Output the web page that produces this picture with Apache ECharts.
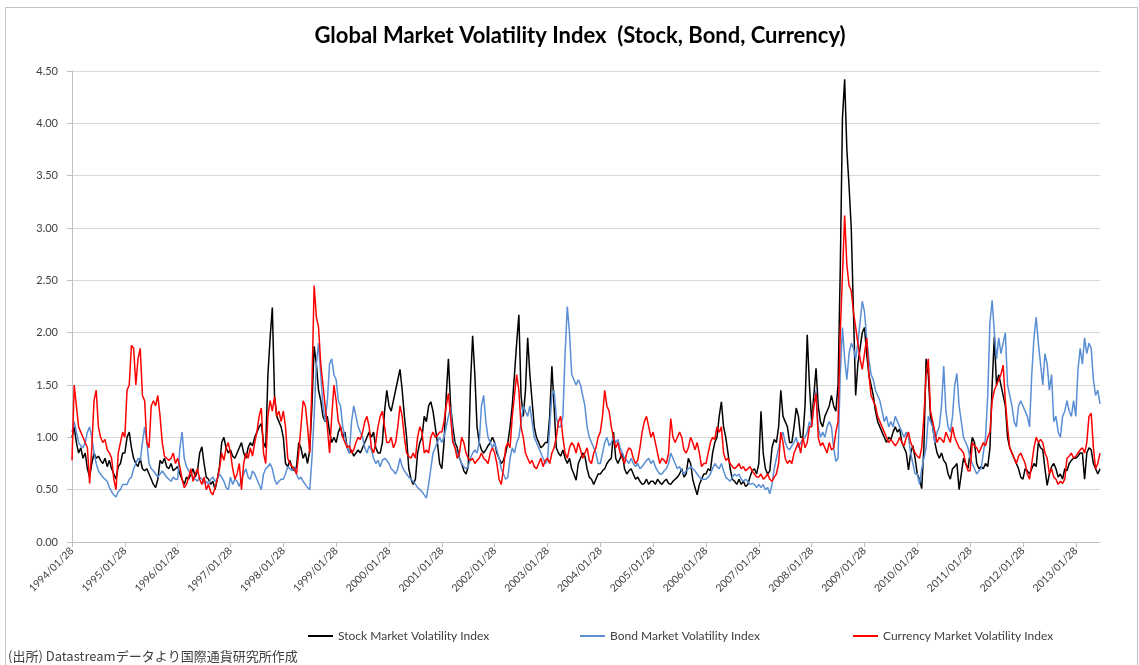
<!DOCTYPE html>
<html><head><meta charset="utf-8">
<script src="https://cdn.jsdelivr.net/npm/echarts@6.0.0/dist/echarts.min.js"></script>
<style>
html,body{margin:0;padding:0;background:#fff;}
#frame{position:absolute;left:5px;top:7px;width:1133px;height:680px;border:1px solid #c4c4c4;box-sizing:border-box;}
#chart{position:absolute;left:0;top:0;width:1139px;height:665px;}
</style></head><body>
<div id="frame"></div>
<div id="chart"></div>
<script>
// Semi-monthly readings (13th and 28th of each month), 1994/01/28 .. 2013/07/13
const stock = [
1.0,1.1,0.95,0.85,0.9,0.8,0.85,0.7,0.62,0.75,0.85,0.8,0.82,0.78,0.75,0.8,0.72,0.78,0.7,0.65,0.6,0.72,0.75,0.85,
0.85,1.0,1.05,0.9,0.8,0.75,0.72,0.8,0.7,0.68,0.7,0.65,0.6,0.55,0.52,0.6,0.78,0.75,0.8,0.72,0.7,0.75,0.68,0.7,
0.72,0.65,0.6,0.55,0.62,0.6,0.65,0.7,0.62,0.68,0.85,0.91,0.75,0.62,0.6,0.55,0.58,0.5,0.6,0.72,0.95,1.0,0.9,0.85,
0.88,0.82,0.8,0.85,0.9,0.95,0.85,0.8,0.9,0.95,0.92,1.0,1.05,1.1,1.13,0.95,0.9,1.6,1.95,2.24,1.4,1.2,1.15,1.1,
1.0,0.75,0.72,0.78,0.7,0.68,0.72,0.95,0.9,0.8,0.85,0.75,0.88,1.3,1.87,1.7,1.45,1.35,1.2,1.15,1.2,1.05,0.95,1.0,
0.95,1.05,1.1,1.0,1.05,0.9,0.85,0.88,0.82,0.85,0.88,0.85,0.9,0.95,1.0,1.05,1.0,1.05,0.9,0.85,0.85,0.95,1.25,1.45,
1.3,1.25,1.35,1.45,1.55,1.65,1.45,1.2,1.0,0.7,0.6,0.55,0.6,0.85,0.95,1.0,1.2,1.15,1.3,1.34,1.25,1.1,0.95,0.75,
0.7,0.95,1.4,1.75,1.3,1.1,0.95,0.9,0.8,0.75,0.68,0.65,0.72,1.5,1.97,1.6,1.1,0.95,0.88,0.85,0.88,0.92,0.95,1.0,
0.95,0.85,0.8,0.75,0.78,0.85,0.95,1.1,1.3,1.6,1.9,2.17,1.4,1.2,1.45,1.95,1.6,1.35,1.1,1.0,0.95,0.9,0.92,0.95,
0.95,1.2,1.68,1.3,0.9,0.85,0.82,0.88,0.8,0.75,0.8,0.7,0.65,0.59,0.75,0.8,0.85,0.82,0.7,0.62,0.6,0.55,0.6,0.65,
0.65,0.68,0.7,0.75,0.78,0.8,1.05,0.8,0.75,0.8,0.85,0.7,0.65,0.68,0.7,0.65,0.6,0.62,0.58,0.55,0.56,0.6,0.55,0.58,
0.58,0.55,0.6,0.57,0.55,0.58,0.6,0.56,0.55,0.58,0.6,0.62,0.65,0.7,0.62,0.65,0.8,0.75,0.6,0.52,0.45,0.55,0.6,0.65,
0.65,0.7,0.68,0.85,0.95,1.0,1.2,1.34,1.1,1.0,0.85,0.7,0.6,0.58,0.55,0.6,0.55,0.58,0.53,0.55,0.62,0.68,0.7,0.65,
0.75,1.25,0.85,0.7,0.65,0.68,0.9,0.98,0.95,1.1,1.45,1.2,1.15,1.1,0.95,0.95,1.1,1.28,1.2,1.0,1.0,1.3,1.98,1.5,
1.15,1.4,1.66,1.3,1.15,1.1,1.2,1.25,1.3,1.4,1.3,1.25,1.5,2.6,4.05,4.42,3.75,3.4,3.0,2.2,1.4,1.7,1.85,2.0,
2.05,1.8,1.6,1.5,1.4,1.25,1.15,1.1,1.05,1.0,0.95,1.0,0.98,1.05,1.1,1.05,1.08,0.95,0.9,0.85,0.69,0.85,0.92,0.8,
0.65,0.6,0.51,0.9,1.75,1.6,1.2,1.1,0.95,0.85,0.8,0.85,0.78,0.75,0.65,0.6,0.7,0.72,0.75,0.5,0.65,0.8,0.75,0.7,
0.85,1.0,0.95,0.75,0.7,0.72,0.7,0.75,0.72,0.9,1.5,1.96,1.5,1.6,1.5,1.4,1.3,1.0,0.9,0.85,0.8,0.75,0.7,0.62,
0.6,0.7,0.68,0.65,0.7,0.75,0.72,0.95,0.9,0.88,0.7,0.54,0.65,0.72,0.75,0.7,0.62,0.65,0.6,0.7,0.68,0.75,0.78,0.8,
0.8,0.82,0.85,0.85,0.6,0.85,0.9,0.88,0.75,0.7,0.65,0.7
];
const bond = [
1.05,1.15,1.05,0.95,0.92,0.9,0.95,1.05,1.1,1.0,0.85,0.75,0.68,0.65,0.62,0.6,0.58,0.52,0.48,0.45,0.43,0.48,0.5,0.55,
0.55,0.55,0.6,0.62,0.7,0.75,0.8,0.78,0.95,1.1,0.95,0.75,0.7,0.68,0.65,0.62,0.65,0.68,0.65,0.62,0.6,0.58,0.62,0.6,
0.6,0.9,1.05,0.8,0.72,0.68,0.65,0.62,0.6,0.58,0.62,0.6,0.56,0.58,0.55,0.6,0.62,0.58,0.6,0.65,0.62,0.58,0.52,0.5,
0.62,0.55,0.6,0.58,0.53,0.6,0.65,0.7,0.62,0.6,0.68,0.65,0.6,0.55,0.5,0.65,0.7,0.72,0.75,0.7,0.6,0.55,0.58,0.6,
0.6,0.65,0.72,0.7,0.68,0.72,0.65,0.6,0.62,0.58,0.55,0.52,0.5,0.8,1.2,1.7,1.9,1.6,1.3,1.15,1.35,1.7,1.75,1.6,
1.55,1.35,1.3,1.1,1.0,0.9,0.85,1.15,1.3,1.2,1.1,1.05,1.0,0.9,0.85,0.92,0.88,0.8,0.75,0.78,0.72,0.78,0.8,0.78,
0.75,0.7,0.68,0.65,0.7,0.8,0.72,0.68,0.65,0.62,0.6,0.58,0.55,0.52,0.5,0.48,0.45,0.42,0.55,0.7,0.85,0.9,0.95,1.0,
0.95,1.0,1.1,1.2,1.29,1.0,0.9,0.85,0.8,0.75,0.72,0.7,0.72,0.8,0.85,0.88,0.85,0.95,1.3,1.4,1.15,1.0,0.95,0.9,
0.95,0.88,0.8,0.7,0.65,0.6,0.62,0.8,0.9,0.85,0.95,1.0,1.15,1.3,1.25,1.2,1.3,1.15,1.0,0.95,0.9,0.85,0.8,0.75,
0.78,1.1,1.4,1.45,1.2,1.1,1.1,1.2,1.8,2.25,2.0,1.6,1.55,1.5,1.55,1.5,1.4,1.3,1.1,1.0,0.95,0.9,0.85,0.75,
0.75,0.85,0.95,1.0,0.92,0.95,1.0,0.95,0.98,0.9,0.85,0.8,0.78,0.75,0.8,0.75,0.72,0.75,0.7,0.72,0.75,0.78,0.8,0.75,
0.78,0.72,0.68,0.65,0.65,0.68,0.7,0.75,0.85,0.8,0.75,0.7,0.72,0.68,0.65,0.68,0.7,0.72,0.7,0.68,0.65,0.62,0.6,0.6,
0.6,0.62,0.65,0.7,0.75,0.72,0.7,0.75,0.68,0.62,0.6,0.58,0.62,0.65,0.63,0.65,0.6,0.58,0.6,0.58,0.55,0.56,0.55,0.52,
0.55,0.52,0.55,0.5,0.52,0.46,0.55,0.7,0.8,0.9,1.0,1.05,0.95,0.9,0.88,0.92,0.95,1.0,0.9,0.95,0.98,1.0,1.05,1.15,
1.1,1.3,1.45,1.1,1.0,1.05,1.0,1.1,1.15,1.1,0.9,0.77,0.8,1.6,2.05,1.75,1.55,1.8,1.9,1.85,1.75,1.9,2.1,2.3,
2.2,1.95,1.75,1.6,1.55,1.45,1.4,1.35,1.25,1.15,1.2,1.1,1.15,1.1,1.2,1.15,1.1,1.05,1.0,1.05,1.0,0.85,0.75,0.65,
0.65,0.55,0.7,0.8,0.9,1.2,1.15,1.1,0.95,1.05,1.1,1.3,1.68,1.25,1.1,1.05,1.2,1.5,1.61,1.3,1.15,1.0,0.95,0.9,
0.8,0.75,0.7,0.65,0.68,0.7,0.85,1.0,1.4,2.1,2.31,2.0,1.75,1.95,1.8,1.9,2.0,1.5,1.4,1.3,1.15,1.1,1.3,1.35,
1.3,1.25,1.2,1.1,1.6,1.95,2.15,1.9,1.7,1.5,1.8,1.7,1.45,1.6,1.15,1.2,1.05,1.0,1.2,1.25,1.35,1.25,1.2,1.35,
1.2,1.65,1.85,1.7,1.95,1.8,1.9,1.85,1.55,1.4,1.45,1.32
];
const currency = [
0.78,1.5,1.3,1.1,1.05,1.0,0.95,0.9,0.56,0.9,1.35,1.45,1.1,1.0,0.95,0.98,0.88,0.85,0.8,0.6,0.5,0.85,0.95,1.05,
1.0,1.45,1.5,1.88,1.85,1.5,1.75,1.85,1.4,1.35,0.95,0.9,1.3,1.35,1.3,1.4,1.2,0.95,0.82,0.8,0.78,0.8,0.85,0.75,
0.8,0.72,0.6,0.52,0.55,0.62,0.7,0.58,0.65,0.7,0.6,0.55,0.62,0.5,0.55,0.48,0.45,0.52,0.6,0.7,0.85,0.78,0.9,0.95,
0.85,0.7,0.6,0.65,0.75,0.5,0.75,0.85,0.8,0.9,0.82,0.95,1.05,1.2,1.28,0.85,0.75,1.2,1.35,1.25,1.39,1.2,1.25,1.15,
1.25,1.1,0.8,0.75,0.72,0.7,0.65,0.85,1.1,1.35,1.3,1.1,0.85,1.5,2.45,2.15,2.05,1.7,1.5,1.3,1.1,0.85,1.2,1.5,
1.35,1.15,1.1,1.0,0.95,0.9,0.92,0.85,0.88,0.95,1.0,0.98,1.05,1.15,1.2,1.1,0.9,0.85,0.95,1.1,1.2,1.25,1.1,0.95,
0.95,1.0,0.9,0.95,1.1,1.3,1.2,1.0,0.85,0.82,0.8,0.85,0.8,1.0,1.1,1.05,0.85,0.88,0.85,1.0,1.05,1.0,1.02,1.05,
1.05,1.15,1.3,1.42,1.2,0.95,0.9,0.8,0.85,1.0,0.95,0.85,0.8,0.78,0.8,0.75,0.78,0.8,0.85,0.8,0.78,0.75,0.85,0.9,
0.85,0.75,0.6,0.55,0.7,0.9,0.95,0.9,1.2,1.4,1.6,1.45,1.1,1.0,0.85,0.8,0.75,0.78,0.72,0.7,0.75,0.8,0.72,0.78,
0.8,0.75,0.85,0.9,1.0,1.15,1.2,1.0,0.85,0.8,0.9,0.95,0.92,0.85,0.95,0.88,0.8,0.85,0.9,0.78,0.75,0.85,0.9,1.0,
1.05,1.2,1.45,1.3,1.25,1.1,1.0,0.9,0.95,0.85,0.8,0.75,0.85,0.9,0.88,0.8,0.75,0.78,0.9,1.05,1.15,1.2,1.1,1.0,
1.05,0.95,0.85,0.75,0.8,0.78,0.75,0.85,1.18,1.0,0.95,1.0,1.05,1.0,0.88,0.85,0.9,1.0,0.95,0.88,0.95,0.85,0.72,0.75,
0.75,0.85,0.95,1.0,0.98,1.1,1.05,1.1,0.85,0.78,0.8,0.75,0.72,0.7,0.72,0.75,0.7,0.72,0.68,0.7,0.72,0.68,0.65,0.62,
0.62,0.65,0.6,0.62,0.65,0.6,0.58,0.62,0.65,0.75,1.05,0.95,0.8,0.75,0.78,0.75,0.85,0.9,0.95,0.85,1.0,0.9,0.95,1.1,
1.1,1.3,1.42,1.0,0.92,0.95,0.9,0.85,0.95,0.88,0.9,1.05,1.15,2.0,2.55,3.12,2.65,2.45,2.4,2.2,2.05,1.9,1.75,1.65,
1.8,1.95,1.6,1.4,1.35,1.3,1.2,1.15,1.1,1.05,1.0,0.95,0.98,0.95,0.92,0.95,1.0,0.95,0.92,1.0,1.05,0.95,0.9,0.85,
0.82,0.8,0.9,1.2,1.6,1.75,1.25,1.15,1.05,0.95,1.0,0.98,0.95,1.05,1.0,0.95,1.1,1.0,0.95,0.9,0.88,0.85,0.75,0.68,
0.68,0.95,0.92,0.9,0.85,0.9,0.95,0.92,1.0,1.05,1.35,1.45,1.5,1.55,1.6,1.69,1.35,1.1,0.9,0.85,0.8,0.75,0.82,0.85,
0.8,0.75,0.65,0.6,0.75,0.9,1.0,0.95,0.98,0.95,0.85,0.8,0.65,0.7,0.62,0.6,0.55,0.58,0.56,0.6,0.8,0.82,0.85,0.8,
0.82,0.85,0.88,0.9,0.85,0.95,1.2,1.23,0.9,0.7,0.75,0.85
];
const seriesNames = ['Stock Market Volatility Index', 'Bond Market Volatility Index', 'Currency Market Volatility Index'];
const yTicks = [0, 0.5, 1.0, 1.5, 2.0, 2.5, 3.0, 3.5, 4.0, 4.5];
const titleText = 'Global Market Volatility Index  (Stock, Bond, Currency)';
const sourceText = '(出所) Datastreamデータより国際通貨研究所作成';

// category labels: 13th and 28th of each month, starting 1994/01/28
const categories = [];
for (let y = 1994; y <= 2013; y++) {
  for (let m = 1; m <= 12; m++) {
    for (const d of [13, 28]) {
      const s = y + '/' + String(m).padStart(2, '0') + '/' + d;
      if (s < '1994/01/28') continue;
      if (categories.length < stock.length) categories.push(s);
    }
  }
}

const FONT = 'Lato, "Liberation Sans", sans-serif';
const TXT = '#404040';
const chart = echarts.init(document.getElementById('chart'), null, {renderer: 'canvas'});
const colors = ['#000000', '#5a8fd6', '#ff0000'];
const legendLeft = [308, 580, 853];

chart.setOption({
  animation: false,
  title: {
    text: titleText, left: 575, top: 20, textAlign: 'center',
    textStyle: {fontFamily: FONT, fontSize: 22, fontWeight: 'bold', color: '#000'}
  },
  legend: seriesNames.map((n, i) => ({
    data: [n], left: legendLeft[i], top: 630, padding: 0, icon: 'rect', itemWidth: 25, itemHeight: 2,
    itemGap: 4, textStyle: {fontFamily: FONT, fontSize: 12, color: TXT}
  })),
  grid: {left: 72, right: 39, top: 71, bottom: 123, containLabel: false},
  xAxis: {
    type: 'category', data: categories, boundaryGap: false,
    axisLine: {lineStyle: {color: '#bfbfbf', width: 1}},
    axisTick: {interval: 23, length: 5, lineStyle: {color: '#bfbfbf'}},
    axisLabel: {interval: 23, rotate: 45, margin: 7, fontFamily: FONT, fontSize: 10.5, color: TXT},
    splitLine: {show: false}
  },
  yAxis: {
    type: 'value', min: yTicks[0], max: yTicks[yTicks.length - 1], interval: 0.5,
    axisLine: {show: true, lineStyle: {color: '#bfbfbf'}},
    axisTick: {show: true, length: 5, lineStyle: {color: '#bfbfbf'}},
    axisLabel: {formatter: v => v.toFixed(2), margin: 14, fontFamily: FONT, fontSize: 11, color: TXT},
    splitLine: {lineStyle: {color: '#d9d9d9', width: 1}}
  },
  graphic: [{
    type: 'text', left: 8, top: 650,
    style: {text: sourceText, fontFamily: '"Noto Sans CJK JP", sans-serif', fontSize: 13, fill: TXT}
  }],
  series: [stock, bond, currency].map((d, i) => ({
    name: seriesNames[i], type: 'line', data: d, symbol: 'none', color: colors[i],
    lineStyle: {width: 1.5, color: colors[i]}, z: 2 + i
  }))
});
</script>
</body></html>
